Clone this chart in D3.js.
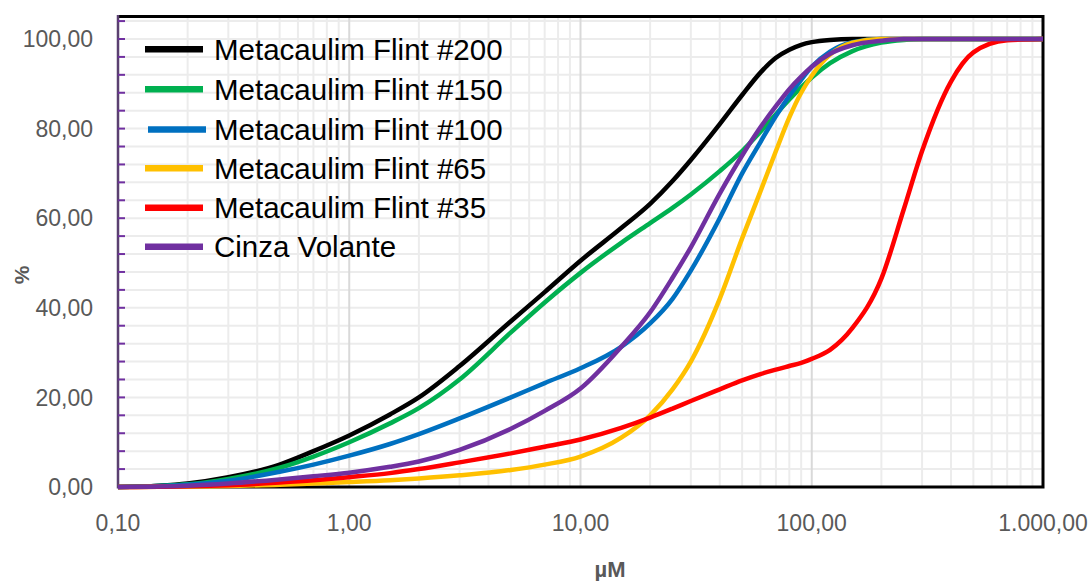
<!DOCTYPE html>
<html>
<head>
<meta charset="utf-8">
<script src="https://cdn.jsdelivr.net/npm/d3@7"></script>
<style>
  html, body { margin: 0; padding: 0; background: #fff; }
  svg { display: block; font-family: "Liberation Sans", Arial, sans-serif; }
</style>
</head>
<body>
<svg id="chart" width="1092" height="581"></svg>
<script>
// ---- data ----
const sizes = [0.1, 0.15, 0.2, 0.3, 0.5, 0.7, 1, 1.5, 2, 3, 5, 7, 10, 15, 20, 25, 30, 40, 50, 60, 70, 80, 90, 100, 120, 150, 200, 250, 300, 400, 500, 700, 1000];
const seriesNames = ["Metacaulim Flint #200", "Metacaulim Flint #150", "Metacaulim Flint #100", "Metacaulim Flint #65", "Metacaulim Flint #35", "Cinza Volante"];
const seriesColors = ["#000000", "#00B050", "#0070C0", "#FFC000", "#FF0000", "#7030A0"];
const flint200 = [0, 0.3, 0.8, 2.2, 5, 8, 11.5, 16.2, 20, 27, 37, 43.5, 50.5, 57.8, 63.2, 68.3, 73, 81, 87.5, 92.5, 95.8, 97.6, 98.7, 99.3, 99.8, 100, 100, 100, 100, 100, 100, 100, 100];
const flint150 = [0, 0.25, 0.6, 1.8, 4.3, 6.8, 10, 14.2, 17.6, 24, 34.5, 41.2, 47.8, 54.5, 58.9, 62.3, 65.3, 70.5, 75, 79.3, 83.2, 86.5, 89.2, 91.4, 94.6, 97.3, 99.2, 99.8, 100, 100, 100, 100, 100];
const flint100 = [0, 0.2, 0.5, 1.4, 3.4, 5, 7, 9.6, 11.8, 15.3, 20, 23.2, 26.5, 31.3, 36.5, 42, 48.3, 60, 70, 77, 82.8, 87.3, 90.9, 93.8, 97.2, 99.3, 100, 100, 100, 100, 100, 100, 100];
const flint65 = [0, 0.05, 0.1, 0.25, 0.5, 0.8, 1.1, 1.5, 1.9, 2.6, 3.8, 5, 6.8, 11, 16, 21.8, 28, 42, 55.5, 66, 75, 82.5, 88, 91.8, 96.5, 99.2, 100, 100, 100, 100, 100, 100, 100];
const flint35 = [0, 0.05, 0.15, 0.4, 1, 1.5, 2.2, 3.1, 4, 5.5, 7.5, 9, 10.6, 13.2, 15.5, 17.5, 19.2, 21.8, 23.8, 25.2, 26.2, 27, 27.7, 28.6, 30.6, 35.5, 46.5, 62, 75, 90.5, 97, 99.7, 100];
const cinza = [0, 0.1, 0.3, 0.8, 1.7, 2.4, 3.2, 4.5, 5.7, 8.3, 13, 17, 22, 31.3, 39, 46.7, 53.5, 65.5, 74, 80.3, 85, 88.8, 91.6, 93.8, 96.7, 98.6, 99.6, 100, 100, 100, 100, 100, 100];
const seriesValues = [flint200, flint150, flint100, flint65, flint35, cinza];
const xTicks = [0.1, 1, 10, 100, 1000];
const yTicks = [0, 20, 40, 60, 80, 100];
const xTitle = "µM";
const yTitle = "%";

// ---- layout ----
const svg = d3.select("#chart");
const pLeft = 118, pRight = 1043, pTop = 16.6, pBottom = 487;
const x = d3.scaleLog().domain([0.1, 1000]).range([pLeft, pRight]);
const y = d3.scaleLinear().domain([0, 105]).range([pBottom, pTop]);
const loc = d3.formatLocale({decimal: ",", thousands: ".", grouping: [3], currency: ["", ""]});
const fmt = loc.format(",.2f");

// gridlines
const g = svg.append("g");
const hGrid = d3.range(0, 105, 4);
g.selectAll("line.h").data(hGrid).enter().append("line")
  .attr("x1", pLeft).attr("x2", pRight)
  .attr("y1", d => y(d)).attr("y2", d => y(d))
  .attr("stroke", "#ececec").attr("stroke-width", 2);
const minorX = [];
[0.1, 1, 10, 100].forEach(dec => { for (let k = 2; k <= 9; k++) minorX.push(dec * k); });
g.selectAll("line.vm").data(minorX).enter().append("line")
  .attr("x1", d => x(d)).attr("x2", d => x(d))
  .attr("y1", pTop).attr("y2", pBottom)
  .attr("stroke", "#ececec").attr("stroke-width", 2);
g.selectAll("line.vM").data([1, 10, 100]).enter().append("line")
  .attr("x1", d => x(d)).attr("x2", d => x(d))
  .attr("y1", pTop).attr("y2", pBottom)
  .attr("stroke", "#d9d9d9").attr("stroke-width", 2);

// border (top, right, bottom)
svg.append("path")
  .attr("d", `M${pLeft},${pTop}H${pRight}V${pBottom}H${pLeft}`)
  .attr("fill", "none").attr("stroke", "#000").attr("stroke-width", 3);

// left axis line with purple ticks
svg.append("line").attr("x1", pLeft).attr("x2", pLeft).attr("y1", pTop - 1.5).attr("y2", pBottom + 1.5)
  .attr("stroke", "#5a4070").attr("stroke-width", 2.5);
svg.selectAll("line.yt").data(hGrid).enter().append("line")
  .attr("x1", pLeft).attr("x2", pLeft + 7)
  .attr("y1", d => y(d)).attr("y2", d => y(d))
  .attr("stroke", "#7030A0").attr("stroke-width", 2);

// series
const line = d3.line().x(d => x(d[0])).y(d => y(d[1])).curve(d3.curveMonotoneX);
seriesValues.forEach((vals, i) => {
  svg.append("path")
    .datum(sizes.map((s, j) => [s, vals[j]]))
    .attr("d", line)
    .attr("fill", "none")
    .attr("stroke", seriesColors[i])
    .attr("stroke-width", 4.5)
    .attr("stroke-linejoin", "round")
    .attr("stroke-linecap", "butt");
});

// tick labels
svg.selectAll("text.yl").data(yTicks).enter().append("text")
  .attr("x", 93).attr("y", d => y(d)).attr("dy", "0.36em")
  .attr("text-anchor", "end").attr("font-size", 23).attr("fill", "#595959")
  .text(d => fmt(d));
svg.selectAll("text.xl").data(xTicks).enter().append("text")
  .attr("x", d => x(d)).attr("y", 531)
  .attr("text-anchor", "middle").attr("font-size", 23).attr("fill", "#595959")
  .text(d => fmt(d));

// axis titles
svg.append("text").attr("x", 610).attr("y", 577).attr("text-anchor", "middle")
  .attr("font-size", 22).attr("font-weight", "bold").attr("fill", "#595959").text(xTitle);
svg.append("text").attr("transform", "translate(29,275) rotate(-90)").attr("text-anchor", "middle")
  .attr("font-size", 21).attr("font-weight", "bold").attr("fill", "#595959").text(yTitle);

// legend
const legendY = [49.3, 89.3, 129.5, 168.3, 207.7, 246.7];
const lg = svg.append("g");
seriesNames.forEach((name, i) => {
  const off = i === 2 ? 3 : 0;
  lg.append("line").attr("x1", 145 + off).attr("x2", 203 + off)
    .attr("y1", legendY[i]).attr("y2", legendY[i])
    .attr("stroke", seriesColors[i]).attr("stroke-width", 6.5);
  lg.append("text").attr("x", 214).attr("y", legendY[i] + 10.5)
    .attr("font-size", 29.5).attr("fill", "#000").text(name);
});
</script>
</body>
</html>
